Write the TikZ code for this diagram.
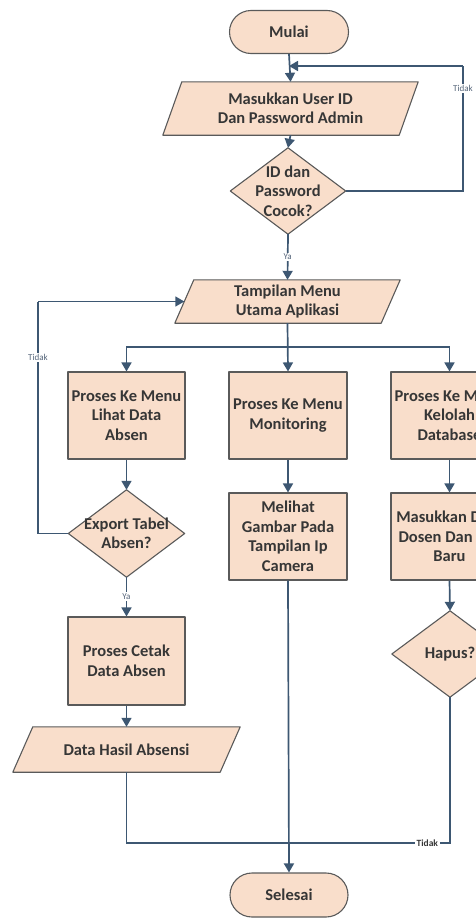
\documentclass[tikz,border=0pt]{standalone}
\usepackage{fontspec}
\setmainfont{Carlito}
\usetikzlibrary{arrows.meta,backgrounds,calc}

\definecolor{boxfill}{HTML}{F9DECB}
\definecolor{boxline}{HTML}{5A5A5A}
\definecolor{flow}{HTML}{3D5772}
\definecolor{txt}{HTML}{363636}
\definecolor{lbltxt}{HTML}{55657A}

\tikzset{
  base/.style={font=\fontsize{16.5}{19.5}\selectfont\bfseries, text=txt, align=center, inner sep=0pt},
  shapeline/.style={draw=boxline, line width=1.1pt, fill=boxfill, line join=round},
  procbox/.style={base, rectangle, shapeline, minimum width=117pt, minimum height=87pt},
  term/.style={base, rectangle, shapeline, rounded corners=21.5pt, minimum width=119pt, minimum height=43pt},
  frame/.style={base, rectangle, minimum width=#1},
  flowline/.style={draw=flow, line width=1.7pt},
  arr/.style={flowline, -{Triangle[width=10pt,length=9pt]}},
  lbl/.style={font=\fontsize{9}{10}\selectfont, text=lbltxt, fill=white, inner sep=1.5pt},
  lblbold/.style={font=\fontsize{9.5}{10}\selectfont\bfseries, text=txt, fill=white, inner sep=1.5pt},
}

% outline of a decision diamond spanning a node's rectangle
\newcommand\decisionshape[1]{\path[shapeline] (#1.north) -- (#1.east) -- (#1.south) -- (#1.west) -- cycle;}
% outline of an input/output parallelogram spanning a node's rectangle
\newcommand\ioshape[2]{\path[shapeline] ([xshift=#2]#1.north west) -- (#1.north east) -- ([xshift=-#2]#1.south east) -- (#1.south west) -- cycle;}

\begin{document}
\begin{tikzpicture}[x=1pt,y=-1pt]
\useasboundingbox (0,0) rectangle (475,918);

% start / login
\node[term] (mulai) at (289,32) {Mulai};
\node[frame=255pt, minimum height=53pt] (masuk) at (290.5,108.5) {Masukkan User ID\\Dan Password Admin};
\node[frame=115pt, minimum height=86pt] (cocok) at (288,191) {ID dan\\Password\\Cocok?};

% main menu
\node[frame=225pt, minimum height=43pt] (tamp) at (287.5,301.5) {Tampilan Menu\\Utama Aplikasi};

% three branches
\node[procbox] (b1) at (126.5,415.5) {Proses Ke Menu\\Lihat Data\\Absen};
\node[procbox, minimum width=118pt] (b2) at (288,415.5) {Proses Ke Menu\\Monitoring};
\node[procbox] (b3) at (449.5,415.5) {Proses Ke Menu\\Kelolah\\Database};

\node[frame=116pt, minimum height=87pt] (export) at (126.5,533.5) {Export Tabel\\Absen?};
\node[procbox, minimum width=118pt] (lihat) at (288,536.5) {Melihat\\Gambar Pada\\Tampilan Ip\\Camera};
\node[procbox] (isi) at (449.5,536.5) {Masukkan Data\\Dosen Dan NIP\\Baru};

\node[procbox, minimum height=88pt] (cetak) at (126.5,661) {Proses Cetak\\Data Absen};
\node[frame=116pt, minimum height=86pt] (hapus) at (450,654) {Hapus?};
\node[frame=227pt, minimum height=45pt] (hasil) at (126.5,749.5) {Data Hasil Absensi};

\node[term, minimum width=118pt, minimum height=44pt, rounded corners=22pt] (selesai) at (289,895) {Selesai};

% shapes behind the texts
\begin{scope}[on background layer]
  \ioshape{masuk}{19pt}
  \ioshape{tamp}{19pt}
  \ioshape{hasil}{20pt}
  \decisionshape{cocok}
  \decisionshape{export}
  \decisionshape{hapus}
\end{scope}

% helper points of the connectors
\coordinate (loopin) at (289,66);
\coordinate (loopr) at (463,191);
\coordinate (loopt) at (463,66);
\coordinate (menuin) at ($(tamp.west)+(9.5,0)$);
\coordinate (backl) at (38,533.5);
\coordinate (backt) at (38,301.5);
\coordinate (split) at (288,347);
\coordinate (joinl) at (126.5,843);
\coordinate (joinr) at (450,843);
\coordinate (joinc) at (288,843);

% login loop
\draw[arr] (mulai.south) -- (masuk.north);
\draw[arr] (masuk.south) -- (cocok.north);
\draw[flowline] (cocok.east) -- (loopr) -- node[lbl, pos=0.82]{Tidak} (loopt);
\draw[arr] (loopt) -- (loopin);
\draw[arr] (cocok.south) -- node[lbl]{Ya} (tamp.north);

% menu split
\draw[arr] (tamp.south) -- (b2.north);
\draw[arr] (split) -| (b1.north);
\draw[arr] (split) -| (b3.north);

% attendance branch
\draw[arr] (b1.south) -- (export.north);
\draw[flowline] (export.west) -- (backl) -- node[lbl, pos=0.76]{Tidak} (backt);
\draw[arr] (backt) -- (menuin);
\draw[arr] (export.south) -- node[lbl]{Ya} (cetak.north);
\draw[arr] (cetak.south) -- (hasil.north);
\draw[flowline] (hasil.south) -- (joinl) -- (joinc);

% monitoring branch
\draw[arr] (b2.south) -- (lihat.north);
\draw[arr] (lihat.south) -- (selesai.north);

% database branch
\draw[arr] (b3.south) -- (isi.north);
\draw[arr] (isi.south) -- (hapus.north);
\draw[flowline] (hapus.south) -- (joinr) -- node[lblbold, pos=0.14]{Tidak} (joinc);
\end{tikzpicture}
\end{document}
